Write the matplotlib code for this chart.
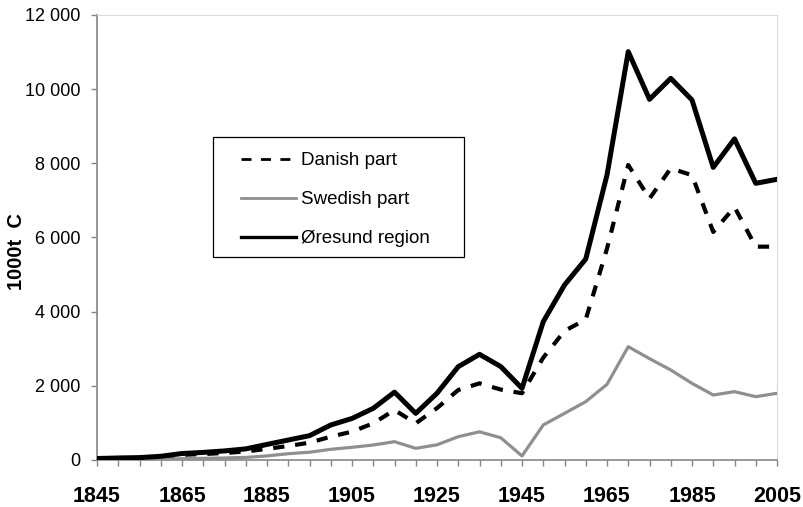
import matplotlib
matplotlib.use("Agg")
import matplotlib.pyplot as plt
from matplotlib.lines import Line2D
from matplotlib.patches import Rectangle
import numpy as np

plt.rcParams["font.family"] = ["Liberation Sans", "DejaVu Sans"]

# ── Data ──────────────────────────────────────────────────────────────────────
years = list(range(1845, 2006, 5))

danish = [30, 45, 50, 80, 140, 160, 190, 230, 300, 378, 467, 629, 764, 989,
          1348, 989, 1400, 1888, 2067, 1900, 1800, 2760, 3480, 3790, 5700,
          7955, 7050, 7865, 7680, 6150, 6820, 5753, 5753]
swedish = [10, 10, 15, 20, 35, 45, 55, 70, 110, 170, 210, 288, 342, 404,
           494, 315, 410, 629, 760, 600, 110, 944, 1258, 1573, 2040,
           3056, 2733, 2427, 2067, 1753, 1843, 1708, 1798]
oresund = [40, 55, 65, 100, 175, 205, 245, 300, 420, 539, 656, 944, 1120, 1393,
           1830, 1258, 1800, 2517, 2850, 2520, 1933, 3730, 4719, 5420, 7685,
           11011, 9726, 10292, 9708, 7890, 8660, 7461, 7569]

labels = ["Danish part", "Swedish part", "Øresund region"]
y_ticks = list(range(0, 12001, 2000))
x_label_years = list(range(1845, 2006, 20))

W, H = 804, 507
GRAY = "#8f8f8f"
AXIS = "#868686"

fig = plt.figure(figsize=(W / 100, H / 100), dpi=100)
ax = fig.add_axes([97 / W, 1 - 460 / H, 680 / W, 445 / H])

ax.plot(years, danish, color="black", lw=3.0,
        linestyle=(0, (2.7, 2.6)), dash_capstyle="butt", zorder=3)
ax.plot(years, swedish, color=GRAY, lw=2.3, zorder=3)
ax.plot(years, oresund, color="black", lw=3.6, zorder=4)

ax.set_xlim(1845, 2005)
ax.set_ylim(0, 12000)

# axes styling (Excel look)
for s in ("top", "right"):
    ax.spines[s].set_color("#d9d9d9")
    ax.spines[s].set_linewidth(0.75)
for s in ("left", "bottom"):
    ax.spines[s].set_color(AXIS)
    ax.spines[s].set_linewidth(1.2)

ax.set_yticks(y_ticks)
ax.set_yticklabels([f"{v:,}".replace(",", " ") for v in y_ticks], fontsize=13)
ax.set_xticks(years)
ax.set_xticklabels([str(y) if y in x_label_years else "" for y in years],
                   fontsize=15.5, fontweight="bold")
ax.tick_params(axis="y", direction="out", length=4.5, width=1.0, color=AXIS,
               pad=7.5)
ax.tick_params(axis="x", direction="out", length=4.5, width=1.0, color=AXIS,
               pad=14)

fig.text(17 / W, 1 - 252 / H, "1000t  C", rotation=90, ha="center",
         va="center", fontsize=14.5, fontweight="bold")

# ── Legend: frame drawn separately so the padding matches ─────────────────────
handles = [
    Line2D([], [], color="black", lw=2.0, linestyle=(0, (3.6, 3.4))),
    Line2D([], [], color=GRAY, lw=2.0),
    Line2D([], [], color="black", lw=2.4),
]
fig.legend(handles, labels, loc="upper left", frameon=False,
           bbox_to_anchor=(240.7 / W, 1 - 152 / H), borderpad=0,
           borderaxespad=0, fontsize=13.5, handlelength=2.93,
           handletextpad=0.3, labelspacing=1.17)
fig.patches.append(Rectangle((213 / W, 1 - 257 / H), 251 / W, 120 / H,
                             transform=fig.transFigure, fill=False,
                             edgecolor="black", lw=0.9))

fig.savefig("out.png", dpi=100)
